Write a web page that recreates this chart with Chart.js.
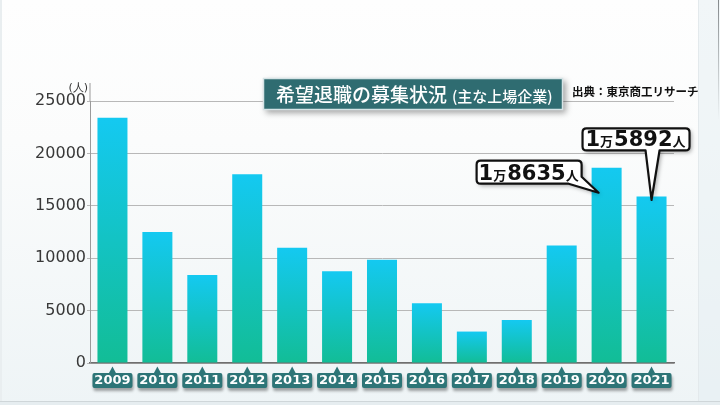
<!DOCTYPE html>
<html lang="ja">
<head>
<meta charset="utf-8">
<title>希望退職の募集状況</title>
<script src="https://cdn.jsdelivr.net/npm/chart.js@4/dist/chart.umd.min.js"></script>
<style>
  html, body { margin: 0; padding: 0; background: #fdfdfd; }
  canvas { display: block; }
</style>
</head>
<body>
<canvas id="c" width="720" height="405"></canvas>
<script>
// 年ごとの希望退職募集人数（主な上場企業）
const years = ['2009', '2010', '2011', '2012', '2013', '2014', '2015', '2016', '2017', '2018', '2019', '2020', '2021'];
const applicants = [23400, 12500, 8400, 18000, 11000, 8750, 9850, 5700, 3000, 4100, 11200, 18635, 15892];
const yTicks = [0, 5000, 10000, 15000, 20000, 25000];
const calloutYears = ['2020', '2021'];

const titleMain = '希望退職の募集状況';
const titleSub = '(主な上場企業)';
const sourceText = '出典：東京商工リサーチ';
const unitText = '(人)';

const JP = '"Noto Sans CJK JP", "Noto Sans", sans-serif';
const NUM = '"DejaVu Sans", "Noto Sans", sans-serif';

// 1万8635人 のような表記に分解
function splitMan(v) {
  return [
    { t: String(Math.floor(v / 10000)), big: true },
    { t: '万', big: false },
    { t: String(v % 10000).padStart(4, '0'), big: true },
    { t: '人', big: false }
  ];
}

function roundRectPath(ctx, x, y, w, h, r) {
  ctx.beginPath();
  ctx.moveTo(x + r, y);
  ctx.lineTo(x + w - r, y);
  ctx.quadraticCurveTo(x + w, y, x + w, y + r);
  ctx.lineTo(x + w, y + h - r);
  ctx.quadraticCurveTo(x + w, y + h, x + w - r, y + h);
  ctx.lineTo(x + r, y + h);
  ctx.quadraticCurveTo(x, y + h, x, y + h - r);
  ctx.lineTo(x, y + r);
  ctx.quadraticCurveTo(x, y, x + r, y);
  ctx.closePath();
}

// 背景
const backdrop = {
  id: 'backdrop',
  beforeDraw(chart) {
    const ctx = chart.ctx;
    const W = chart.width, H = chart.height;
    ctx.save();
    const g = ctx.createLinearGradient(0, 0, 0, H);
    g.addColorStop(0, '#fefefe');
    g.addColorStop(0.35, '#fbfcfc');
    g.addColorStop(1, '#eef4f6');
    ctx.fillStyle = g;
    ctx.fillRect(0, 0, W, H);
    ctx.fillStyle = 'rgba(228,237,241,0.5)';
    ctx.fillRect(699, 0, W - 699, H);
    ctx.fillStyle = '#e3e9ec';
    ctx.fillRect(698, 0, 1, H);
    const edge = ctx.createLinearGradient(0, 0, 0, 120);
    edge.addColorStop(0, 'rgba(120,125,128,0.9)');
    edge.addColorStop(1, 'rgba(120,125,128,0)');
    ctx.fillStyle = edge;
    ctx.fillRect(718, 0, 1, 120);
    ctx.fillStyle = '#e9eef0';
    ctx.fillRect(0, 0, 2, H);
    ctx.fillStyle = '#cfd6d9';
    ctx.fillRect(0, 401, W, 1);
    ctx.fillStyle = '#e6edf0';
    ctx.fillRect(0, 402, W, H - 402);
    ctx.restore();
  }
};

// タイトル・出典・年ラベル・吹き出し
const overlay = {
  id: 'overlay',
  afterDraw(chart) {
    const ctx = chart.ctx;
    const xs = chart.scales.x, ys = chart.scales.y;
    const area = chart.chartArea;
    ctx.save();

    // 縦軸の上方延長と単位
    ctx.fillStyle = '#9a9a9a';
    ctx.fillRect(area.left - 0.5, 83, 1, area.top - 83);
    ctx.fillStyle = '#333';
    ctx.font = '11px ' + NUM;
    ctx.textAlign = 'right';
    ctx.textBaseline = 'middle';
    ctx.fillText(unitText, 88, 88);

    // タイトル
    ctx.save();
    ctx.shadowColor = 'rgba(0,0,0,0.35)';
    ctx.shadowBlur = 6;
    ctx.shadowOffsetX = 3;
    ctx.shadowOffsetY = 3;
    ctx.fillStyle = '#2f6c71';
    ctx.fillRect(263, 78, 300, 32);
    ctx.restore();
    ctx.strokeStyle = '#d6e4e6';
    ctx.lineWidth = 1.5;
    ctx.strokeRect(263.5, 78.5, 299, 31);
    ctx.fillStyle = '#ffffff';
    ctx.textAlign = 'left';
    ctx.textBaseline = 'middle';
    ctx.font = '500 19px ' + JP;
    ctx.fillText(titleMain, 276, 95);
    const mw = ctx.measureText(titleMain).width;
    ctx.font = '500 15px ' + JP;
    ctx.fillText(titleSub, 276 + mw + 5, 96);

    // 出典
    ctx.fillStyle = '#111';
    ctx.font = 'bold 11.5px ' + JP;
    ctx.fillText(sourceText, 572, 92);

    // 年ラベル
    years.forEach((yr, i) => {
      const cx = xs.getPixelForValue(i);
      ctx.save();
      ctx.shadowColor = 'rgba(0,0,0,0.35)';
      ctx.shadowBlur = 3;
      ctx.shadowOffsetX = 1;
      ctx.shadowOffsetY = 3;
      ctx.fillStyle = '#2d7577';
      roundRectPath(ctx, cx - 20, 373, 40, 15, 2);
      ctx.fill();
      ctx.restore();
      ctx.fillStyle = '#2d7577';
      ctx.beginPath();
      ctx.moveTo(cx - 4, 374);
      ctx.lineTo(cx, 366.5);
      ctx.lineTo(cx + 4, 374);
      ctx.closePath();
      ctx.fill();
      ctx.fillStyle = '#ffffff';
      ctx.font = 'bold 13px ' + NUM;
      ctx.textAlign = 'center';
      ctx.textBaseline = 'middle';
      ctx.fillText(yr, cx, 381);
    });

    // 吹き出し
    const drawBubble = (box, tail, tip, parts) => {
      ctx.save();
      const { l, t, r, b } = box;
      const rr = 4;
      ctx.beginPath();
      ctx.moveTo(l + rr, t);
      ctx.lineTo(r - rr, t);
      ctx.quadraticCurveTo(r, t, r, t + rr);
      if (tail.side === 'corner') {
        ctx.lineTo(r, b - 7);
        ctx.lineTo(tip.x, tip.y);
        ctx.lineTo(r - 13, b);
      } else {
        ctx.lineTo(r, b - rr);
        ctx.quadraticCurveTo(r, b, r - rr, b);
        ctx.lineTo(tail.x2, b);
        ctx.lineTo(tip.x, tip.y);
        ctx.lineTo(tail.x1, b);
      }
      ctx.lineTo(l + rr, b);
      ctx.quadraticCurveTo(l, b, l, b - rr);
      ctx.lineTo(l, t + rr);
      ctx.quadraticCurveTo(l, t, l + rr, t);
      ctx.closePath();
      ctx.save();
      ctx.shadowColor = 'rgba(0,0,0,0.35)';
      ctx.shadowBlur = 4;
      ctx.shadowOffsetX = 2;
      ctx.shadowOffsetY = 2;
      ctx.fillStyle = '#ffffff';
      ctx.fill();
      ctx.restore();
      ctx.lineJoin = 'round';
      ctx.lineWidth = 2.2;
      ctx.strokeStyle = '#111';
      ctx.stroke();

      // 文字
      ctx.fillStyle = '#111';
      ctx.textBaseline = 'alphabetic';
      ctx.textAlign = 'left';
      const fonts = { big: 'bold 21px ' + NUM, small: 'bold 13px ' + JP };
      let total = 0;
      parts.forEach(p => { ctx.font = p.big ? fonts.big : fonts.small; p.w = ctx.measureText(p.t).width + (p.big ? 0 : 1); total += p.w; });
      let x = (l + r) / 2 - total / 2;
      const base = b - 4;
      parts.forEach(p => {
        ctx.font = p.big ? fonts.big : fonts.small;
        ctx.fillText(p.t, x, base);
        x += p.w;
      });
      ctx.restore();
    };

    const i1 = years.indexOf(calloutYears[0]);
    const c1 = xs.getPixelForValue(i1);
    const top1 = ys.getPixelForValue(applicants[i1]);
    drawBubble({ l: c1 - 130, t: top1 - 7, r: c1 - 25, b: top1 + 16 },
      { side: 'corner' }, { x: c1 - 8, y: top1 + 25 }, splitMan(applicants[i1]));

    const i2 = years.indexOf(calloutYears[1]);
    const c2 = xs.getPixelForValue(i2);
    const top2 = ys.getPixelForValue(applicants[i2]);
    drawBubble({ l: c2 - 69, t: top2 - 68, r: c2 + 38, b: top2 - 46 },
      { side: 'bottom', x1: c2 - 6, x2: c2 + 8 }, { x: c2, y: top2 + 3.5 }, splitMan(applicants[i2]));

    ctx.restore();
  }
};

function barFill(context) {
  const chart = context.chart;
  if (!chart.chartArea || context.type !== 'data') return '#16c3cf';
  const ys = chart.scales.y;
  const top = ys.getPixelForValue(context.raw);
  const bot = ys.getPixelForValue(0);
  const g = chart.ctx.createLinearGradient(0, top, 0, bot);
  g.addColorStop(0, '#14c9f1');
  g.addColorStop(1, '#12bd96');
  return g;
}

new Chart(document.getElementById('c'), {
  type: 'bar',
  data: {
    labels: years,
    datasets: [{
      data: applicants,
      backgroundColor: barFill,
      borderWidth: 0,
      categoryPercentage: 1,
      barPercentage: 0.668
    }]
  },
  options: {
    responsive: false,
    devicePixelRatio: 1,
    animation: false,
    layout: { padding: { left: 0, right: 46, top: 101, bottom: 42 } },
    plugins: {
      legend: { display: false },
      tooltip: { enabled: false },
      title: { display: false }
    },
    scales: {
      x: {
        grid: { display: false, drawTicks: false },
        border: { color: '#6f6f6f', width: 1.5 },
        ticks: { display: false },
        afterFit(s) { s.height = 0; }
      },
      y: {
        min: 0,
        max: 25000,
        afterBuildTicks(s) { s.ticks = yTicks.map(v => ({ value: v })); },
        afterFit(s) { s.width = 90; },
        grid: { color: '#b8b8b8', lineWidth: 1, tickLength: 3 },
        border: { color: '#9a9a9a', width: 1 },
        ticks: {
          padding: 1,
          color: '#383838',
          font: { family: NUM, size: 16 },
          callback: v => String(v)
        }
      }
    }
  },
  plugins: [backdrop, overlay]
});
</script>
</body>
</html>
